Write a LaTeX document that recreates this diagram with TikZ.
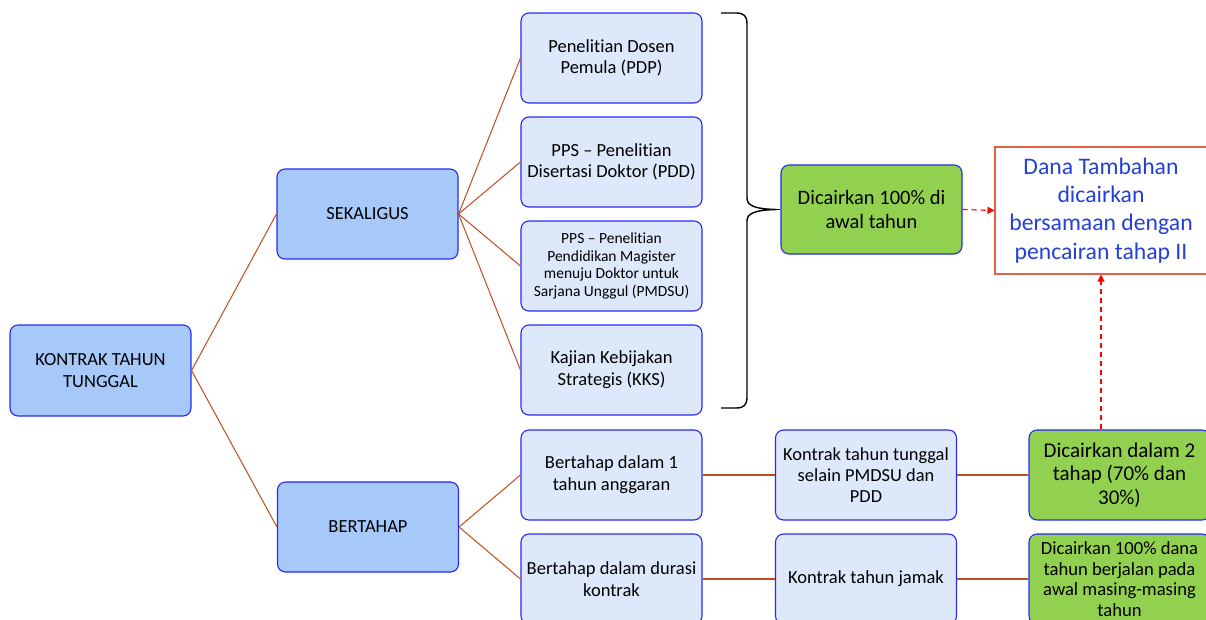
\documentclass[tikz,border=0pt]{standalone}
\usepackage{fontspec}
\setmainfont{Carlito}[Ligatures=NoCommon]
\usetikzlibrary{arrows.meta}
\definecolor{bordblue}{RGB}{40,40,245}
\definecolor{mainfill}{RGB}{166,201,250}
\definecolor{leaffill}{RGB}{221,233,251}
\definecolor{greenfill}{RGB}{146,208,80}
\definecolor{linebrown}{RGB}{192,75,30}
\definecolor{danaborder}{RGB}{225,95,70}
\definecolor{danatext}{RGB}{35,65,215}
\tikzset{
  basebox/.style={rectangle, rounded corners=8pt, draw=bordblue, line width=1.1pt, align=center, inner sep=0pt, minimum width=181pt, minimum height=90pt, text=black},
  mainbox/.style={basebox, fill=mainfill, font=\fontsize{18.5}{22}\selectfont},
  leafbox/.style={basebox, fill=leaffill, font=\fontsize{18.5}{21.7}\selectfont},
  greenbox/.style={basebox, fill=greenfill, font=\fontsize{20.5}{23.3}\selectfont},
  conn/.style={draw=linebrown, line width=1pt},
  hconn/.style={draw=linebrown, line width=1.8pt},
  redarrow/.style={draw=red, line width=1.2pt, dashed, dash pattern=on 5pt off 4pt, -{Triangle[length=7pt,width=7pt]}},
  bracestyle/.style={draw=black, line width=1.4pt},
}
\begin{document}
\begin{tikzpicture}[x=1pt,y=-1pt]
\useasboundingbox (0,0) rectangle (1206,619);
% level 1
\node[mainbox, minimum height=91pt] (ktt) at (100.5,370.5) {KONTRAK TAHUN\\TUNGGAL};
% level 2
\node[mainbox] (sek) at (367.5,214) {SEKALIGUS};
\node[mainbox] (ber) at (368,527) {BERTAHAP};
% sekaligus leaves
\node[leafbox] (pdp) at (611.5,58) {Penelitian Dosen\\Pemula (PDP)};
\node[leafbox] (pdd) at (611.5,162) {PPS – Penelitian\\Disertasi Doktor (PDD)};
\node[leafbox, font=\fontsize{15.5}{17.7}\selectfont] (pmdsu) at (611.5,266) {PPS – Penelitian\\Pendidikan Magister\\menuju Doktor untuk\\Sarjana Unggul (PMDSU)};
\node[leafbox] (kks) at (611.5,370) {Kajian Kebijakan\\Strategis (KKS)};
% result of sekaligus
\node[greenbox, minimum height=89pt] (g1) at (871.5,209.5) {Dicairkan 100\% di\\awal tahun};
\node[rectangle, draw=danaborder, line width=1.1pt, fill=white, minimum width=212pt, minimum height=127pt, inner sep=0pt, align=center, text=danatext, font=\fontsize{23.7}{28.3}\selectfont] (dana) at (1101,210.5) {Dana Tambahan\\dicairkan\\bersamaan dengan\\pencairan tahap II};
% bertahap leaves
\node[leafbox] (b1) at (611.5,475) {Bertahap dalam 1\\tahun anggaran};
\node[leafbox] (b2) at (611.5,579) {Bertahap dalam durasi\\kontrak};
\node[leafbox, font=\fontsize{18.4}{21.3}\selectfont] (k1) at (866,475) {Kontrak tahun tunggal\\selain PMDSU dan\\PDD};
\node[leafbox] (k2) at (866,579) {Kontrak tahun jamak};
\node[greenbox, font=\fontsize{21}{23.3}\selectfont] (g2) at (1119.5,475) {Dicairkan dalam 2\\tahap (70\% dan\\30\%)};
\node[greenbox, font=\fontsize{18.6}{20.5}\selectfont] (g3) at (1119.5,579) {Dicairkan 100\% dana\\tahun berjalan pada\\awal masing-masing\\tahun};
% connectors
\draw[conn] (ktt.east) -- (sek.west);
\draw[conn] (ktt.east) -- (ber.west);
\draw[conn] (sek.east) -- (pdp.west);
\draw[conn] (sek.east) -- (pdd.west);
\draw[conn] (sek.east) -- (pmdsu.west);
\draw[conn] (sek.east) -- (kks.west);
\draw[conn] (ber.east) -- (b1.west);
\draw[conn] (ber.east) -- (b2.west);
\draw[hconn] (b1.east) -- (k1.west);
\draw[hconn] (k1.east) -- (g2.west);
\draw[hconn] (b2.east) -- (k2.west);
\draw[hconn] (k2.east) -- (g3.west);
% brace
\coordinate (btip) at (777,209.5);
\draw[bracestyle] (721,13) -- (736,13) .. controls (744,13) and (747,16) .. (747,24)
  -- (747,198) .. controls (747,205) and (753,209) .. (btip)
  .. controls (753,210) and (747,214) .. (747,221)
  -- (747,397) .. controls (747,405) and (744,408) .. (736,408) -- (721,408);
\draw[line width=1.2pt] (btip) -- (g1.west);
% red dashed arrows
\draw[redarrow] (g1.east) -- (dana.west);
\draw[redarrow] (g2.north -| dana.south) -- (dana.south);
\end{tikzpicture}
\end{document}
